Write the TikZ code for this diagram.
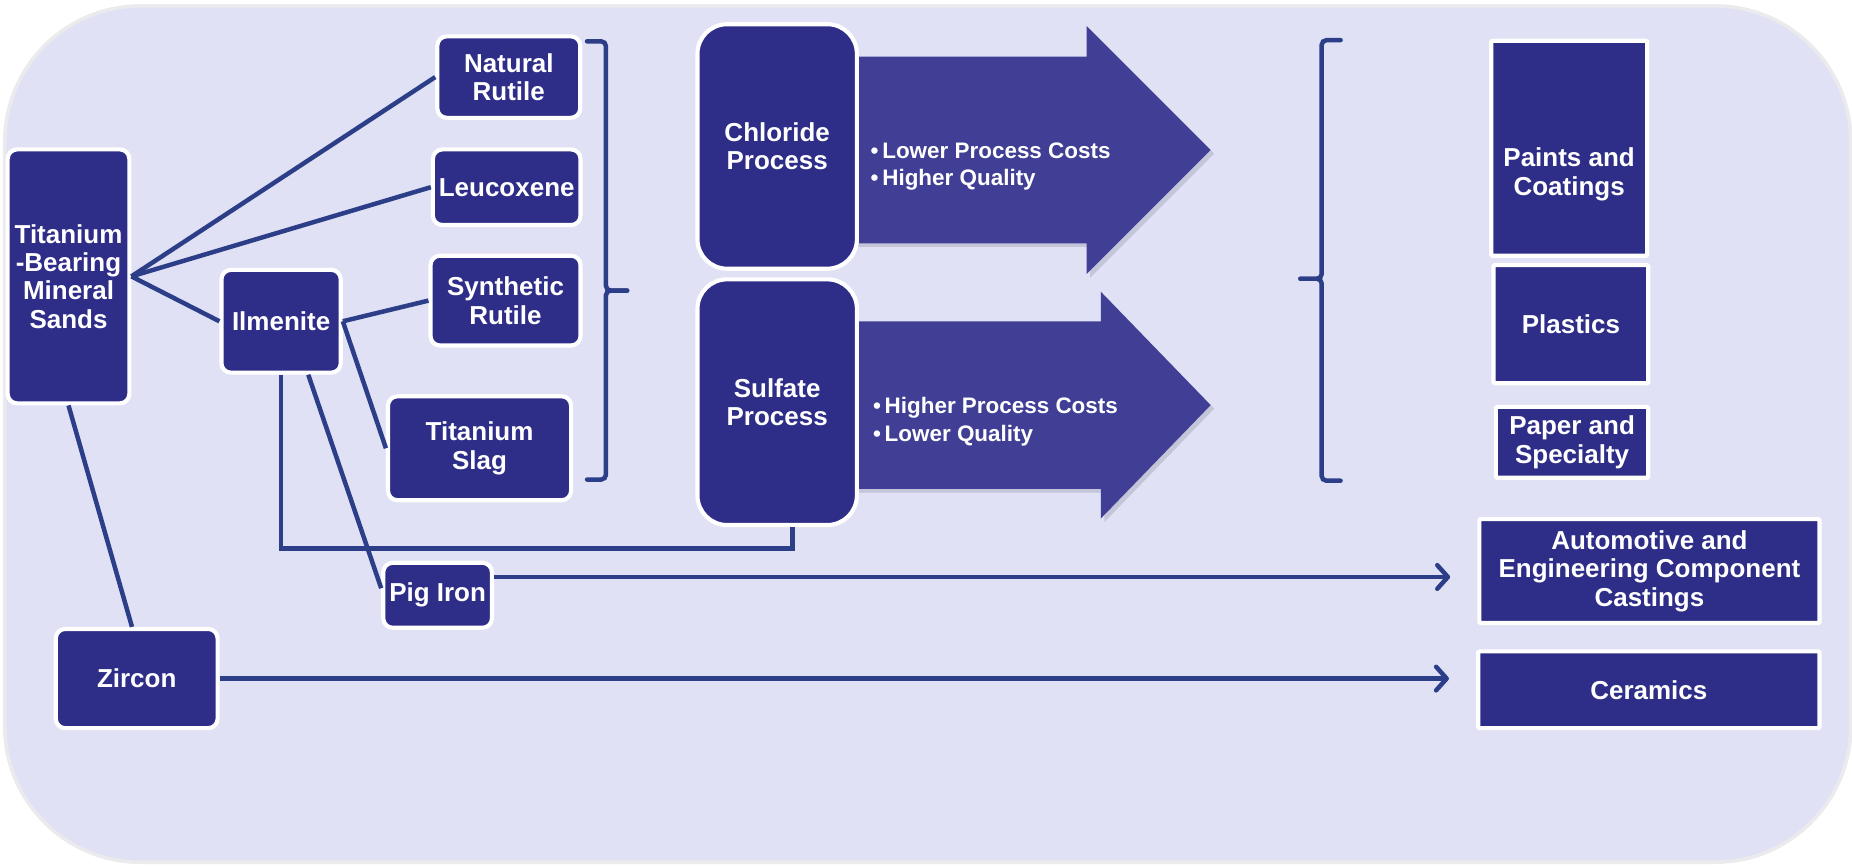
\documentclass[tikz,border=0pt]{standalone}
\usepackage{fontspec}
\setmainfont{Liberation Sans}
\usetikzlibrary{arrows.meta,calc}
\definecolor{bg}{HTML}{E0E1F5}
\definecolor{bgedge}{HTML}{EBEBEE}
\definecolor{nodefill}{HTML}{2E2D88}
\definecolor{arrowfill}{HTML}{403F95}
\definecolor{linecol}{HTML}{2C3E87}
\definecolor{shadowcol}{HTML}{C4C5D8}
\begin{document}
\begin{tikzpicture}[x=1pt,y=-1pt,
  box/.style={draw=white, line width=3.5pt, fill=nodefill, text=white,
    font=\fontsize{22}{24}\selectfont\bfseries, align=center, inner sep=0pt,
    rounded corners=8pt},
  sqbox/.style={box, rounded corners=1pt},
  procbox/.style={box, rounded corners=25pt},
  lbl/.style={text=white, font=\fontsize{22}{24}\selectfont\bfseries, align=center, inner sep=0pt},
  bullets/.style={text=white, font=\fontsize{19}{23}\selectfont\bfseries, align=left, inner sep=0pt, anchor=west},
  conn/.style={draw=linecol, line width=3.8pt},
  brace/.style={draw=linecol, line width=3.8pt, rounded corners=4pt, line cap=round},
  arr/.style={conn, -{Straight Barb[length=9pt,width=20pt,line width=3.8pt,round]}, shorten >=23pt},
  blockarrow/.style={fill=arrowfill},
  blockshadow/.style={fill=shadowcol}
]
\useasboundingbox (0,0) rectangle (1568,733.2);
% background panel
\draw[fill=bg, draw=bgedge, line width=3pt, rounded corners=115pt] (4,5) rectangle (1567,730);

% block arrows
\fill[blockshadow] (700,51) -- (923,51) -- (923,25) -- (1028,130) -- (923,235) -- (923,209) -- (700,209) -- cycle;
\fill[blockarrow] (700,48) -- (920,48) -- (920,22) -- (1025,127) -- (920,232) -- (920,206) -- (700,206) -- cycle;
\fill[blockshadow] (700,275) -- (935,275) -- (935,250) -- (1028,346) -- (935,442) -- (935,417) -- (700,417) -- cycle;
\fill[blockarrow] (700,272) -- (932,272) -- (932,247) -- (1025,343) -- (932,439) -- (932,414) -- (700,414) -- cycle;

% nodes
\node[box, minimum width=103pt, minimum height=215pt] (tbms) at (58,234) {Titanium\\-Bearing\\Mineral\\Sands};
\node[box, minimum width=121pt, minimum height=69pt] (nr) at (430.75,65.25) {Natural\\Rutile};
\node[box, minimum width=125pt, minimum height=64pt] (leu) at (429,158.5) {Leucoxene};
\node[box, minimum width=127pt, minimum height=76pt] (sr) at (428,254.5) {Synthetic\\Rutile};
\node[box, minimum width=155pt, minimum height=88pt] (ts) at (406,379.5) {Titanium\\Slag};
\node[box, minimum width=101pt, minimum height=87pt] (ilm) at (238,272) {Ilmenite};
\node[box, minimum width=92pt, minimum height=55pt] (pig) at (370.5,504) {Pig Iron};
\node[box, minimum width=137pt, minimum height=84pt] (zir) at (115.75,574.5) {Zircon};
\node[procbox, minimum width=135pt, minimum height=207pt] (chl) at (658,124) {Chloride\\Process};
\node[procbox, minimum width=135pt, minimum height=208pt] (sul) at (658,340.5) {Sulfate\\Process};
\node[sqbox, minimum width=132pt, minimum height=182pt] (paints) at (1328.5,125.5) {};
\node[lbl] (paintstxt) at (1328.5,147.5) {Paints and\\Coatings};
\node[sqbox, minimum width=131pt, minimum height=100pt] (plastics) at (1330,274.5) {Plastics};
\node[sqbox, minimum width=129pt, minimum height=60pt] (paper) at (1331,374.5) {Paper and\\Specialty};
\node[sqbox, minimum width=288pt, minimum height=88pt] (auto) at (1396.5,483.5) {Automotive and\\Engineering Component\\Castings};
\node[sqbox, minimum width=289pt, minimum height=65pt] (cer) at (1396,584) {Ceramics};

% bullet texts
\node[bullets] (chlpts) at (737,141) {•\,Lower Process Costs\\•\,Higher Quality};
\node[bullets] (sulpts) at (739,357) {•\,Higher Process Costs\\•\,Lower Quality};

% connectors
\draw[conn] (tbms.east) -- (nr.west);
\draw[conn] (tbms.east) -- (leu.west);
\draw[conn] (tbms.east) -- (ilm.west);
\draw[conn] (ilm.east) -- (sr.west);
\draw[conn] (ilm.east) -- (ts.west);
\draw[conn] ([xshift=23pt]ilm.south) -- ([yshift=6pt]pig.west);
\draw[conn] (ilm.south) -- ++(0,147) -| ([xshift=13pt]sul.south);
\draw[conn] ([xshift=0pt]tbms.south) -- ([xshift=-4pt]zir.north);
\draw[arr] ([yshift=15.5pt]pig.east) -- ([yshift=15.5pt]pig.east -| auto.west);
\draw[arr] (zir.east) -- (zir.east -| cer.west);

% braces
\coordinate (lbtip) at (531,246);
\draw[brace] (497,35) -- (513,35) -- (513,246) -- (lbtip);
\draw[brace] (lbtip) -- (513,246) -- (513,406) -- (497,406);
\coordinate (rbtip) at (1101,236);
\draw[brace] (1135,34) -- (1119,34) -- (1119,236) -- (rbtip);
\draw[brace] (rbtip) -- (1119,236) -- (1119,407) -- (1135,407);
\end{tikzpicture}
\end{document}
